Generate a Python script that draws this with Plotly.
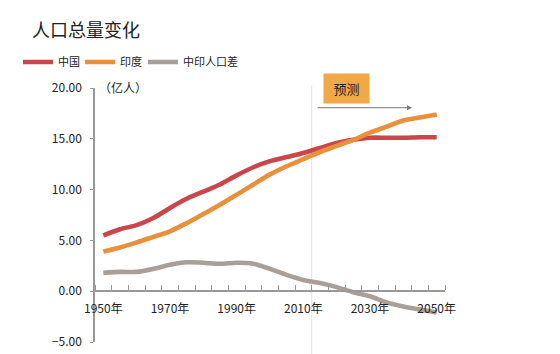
import plotly.graph_objects as go

years = list(range(1950, 2055, 5))
china = [5.5, 6.1, 6.5, 7.2, 8.2, 9.1, 9.8, 10.5, 11.4, 12.2, 12.8, 13.2, 13.6,
         14.1, 14.6, 14.9, 15.1, 15.1, 15.1, 15.15, 15.15]
india = [3.9, 4.3, 4.8, 5.35, 5.9, 6.7, 7.6, 8.5, 9.5, 10.5, 11.5, 12.3, 13.0,
         13.7, 14.3, 14.9, 15.6, 16.2, 16.8, 17.1, 17.4]
diff = [1.8, 1.9, 1.9, 2.2, 2.6, 2.85, 2.8, 2.7, 2.8, 2.7, 2.2, 1.6, 1.1,
        0.8, 0.4, -0.1, -0.5, -1.1, -1.5, -1.8, -2.1]
series_names = ["中国", "印度", "中印人口差"]
series_colors = ["#C9464A", "#E8913A", "#A99F99"]
series_legends = ["legend", "legend", "legend2"]
label_years = [1950, 1970, 1990, 2010, 2030, 2050]
label_text = [f"{y}年" for y in label_years]
y_ticks = [-5, 0, 5, 10, 15, 20]

font = "Noto Sans CJK SC, Noto Sans, sans-serif"

L, R, T, B = 95, 115, 88, 12
W, H = 560 - L - R, 354 - T - B
def px(xp): return (xp - L) / W
def py(yp): return (354 - B - yp) / H

fig = go.Figure()
for name, vals, col, lg in zip(series_names, [china, india, diff], series_colors, series_legends):
    fig.add_trace(go.Scatter(x=years, y=vals, name=name, mode="lines", legend=lg,
                             line=dict(color=col, width=4.6, shape="spline", smoothing=0.8)))

fig.add_shape(type="line", xref="x", yref="paper", x0=2012.5, x1=2012.5, y0=-0.1, y1=1.01,
              line=dict(color="#EFE6D8", width=1.2), layer="below")

fig.add_annotation(x=2042.6, y=18.06, ax=2013.8, ay=18.06, xref="x", yref="y",
                   axref="x", ayref="y", text="", showarrow=True, arrowhead=2,
                   arrowsize=1, arrowwidth=1, arrowcolor="#777")
fig.add_annotation(x=2022.8, y=19.98, xref="x", yref="y", text="预测", showarrow=False,
                   bgcolor="#F0A848", width=43, height=27,
                   font=dict(family=font, size=13, color="#222"))
fig.add_annotation(x=px(97), y=py(87), xref="paper", yref="paper", text="（亿人）",
                   showarrow=False, xanchor="left", yanchor="middle",
                   font=dict(family=font, size=12, color="#222"))
fig.add_annotation(x=px(30), y=py(29), xref="paper", yref="paper", text="人口总量变化",
                   showarrow=False, xanchor="left", yanchor="middle",
                   font=dict(family=font, size=18, color="#222"))

legend_common = dict(orientation="h", yanchor="middle", y=py(62), xanchor="left",
                     font=dict(family=font, size=11, color="#222"),
                     bgcolor="rgba(0,0,0,0)", itemwidth=30, tracegroupgap=0)

fig.update_layout(
    width=560, height=354,
    margin=dict(l=L, r=R, t=T, b=B, autoexpand=False),
    paper_bgcolor="white", plot_bgcolor="white",
    font=dict(family=font, size=12, color="#222"),
    showlegend=True,
    legend=dict(x=px(18), entrywidth=17, entrywidthmode="pixels", **legend_common),
    legend2=dict(x=px(143), **legend_common),
    xaxis=dict(range=[1947.5, 2052.5], tickvals=label_years, ticktext=label_text,
               ticks="", showgrid=False, zeroline=False, showline=True,
               linecolor="#999", linewidth=1.5, anchor="free", position=0.2,
               ticklabelstandoff=7, automargin=False,
               minor=dict(tickmode="linear", tick0=1947.5, dtick=5, ticks="inside",
                          ticklen=5, tickcolor="#999", tickwidth=1, showgrid=False),
               tickfont=dict(family=font, size=12, color="#222")),
    yaxis=dict(range=[-5, 20], tickvals=y_ticks, tickformat=".2f", ticks="outside",
               ticklen=3, tickcolor="#999", showgrid=False, zeroline=False,
               showline=True, linecolor="#999", linewidth=1.5, ticklabelstandoff=6,
               automargin=False,
               tickfont=dict(family=font, size=12, color="#222")),
)

fig.write_html("out.html")
